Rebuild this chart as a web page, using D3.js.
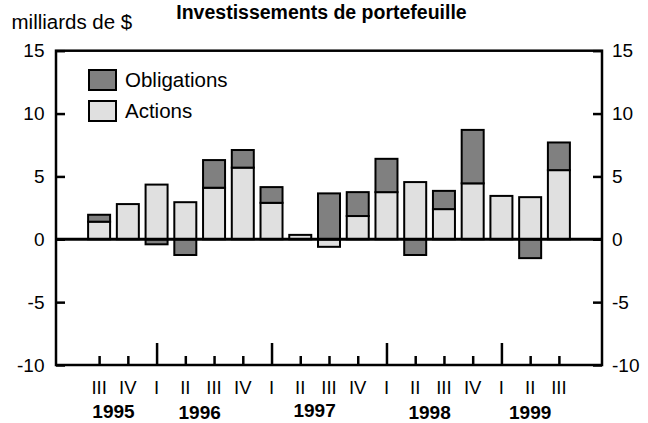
<!DOCTYPE html>
<html><head><meta charset="utf-8">
<script src="https://cdn.jsdelivr.net/npm/d3@7"></script>
<style>
html,body{margin:0;padding:0;background:#fff;}
svg{display:block;}
text{font-family:"Liberation Sans",Arial,Helvetica,sans-serif;fill:#000;}
</style></head>
<body>
<svg id="chart" width="648" height="423"></svg>
<script>
const quarters = ["III","IV","I","II","III","IV","I","II","III","IV","I","II","III","IV","I","II","III"];
const actions = [1.4, 2.8, 4.35, 2.95, 4.1, 5.7, 2.9, 0.35, -0.6, 1.85, 3.75, 4.55, 2.4, 4.45, 3.45, 3.35, 5.5];
const obligations = [0.55, 0, -0.4, -1.25, 2.2, 1.4, 1.25, 0, 3.65, 1.9, 2.65, -1.25, 1.45, 4.25, 0, -1.5, 2.2];
const years = ["1995","1996","1997","1998","1999"];
const yearStart = [0, 2, 6, 10, 14];
const yearEnd = [1, 5, 9, 13, 16];
const majorTickIdx = [2, 6, 10, 14];
const yTicks = [-10, -5, 0, 5, 10, 15];
const seriesNames = ["Obligations", "Actions"];
const title = "Investissements de portefeuille";
const unitLabel = "milliards de $";

const colors = {Obligations: "#808080", Actions: "#e0e0e0"};
const yearDy = [0, 1, -1, 1.5, 1.5];

const svg = d3.select("#chart");
const L = 56, R = 602, T = 50.7, B = 365;
const x = d3.scaleLinear().domain([-1.5, quarters.length + 0.5]).range([L, R]);
const y = d3.scaleLinear().domain([-10, 15]).range([B, T]);
const bw = 22;

// bars: stacked with positive up, negative down
const rows = quarters.map((q, i) => ({i, a: actions[i], o: obligations[i]}));
const segs = [];
rows.forEach(r => {
  let pos = 0, neg = 0;
  [["Actions", r.a], ["Obligations", r.o]].forEach(([k, v]) => {
    if (v === 0) return;
    if (v > 0) { segs.push({i: r.i, k, y0: pos, y1: pos + v}); pos += v; }
    else { segs.push({i: r.i, k, y0: neg + v, y1: neg}); neg += v; }
  });
});
svg.append("g").selectAll("rect").data(segs).join("rect")
  .attr("x", d => x(d.i) - bw / 2)
  .attr("width", bw)
  .attr("y", d => y(d.y1))
  .attr("height", d => y(d.y0) - y(d.y1))
  .attr("fill", d => colors[d.k])
  .attr("stroke", "#000").attr("stroke-width", 2);

// zero line
svg.append("line").attr("x1", L).attr("x2", R).attr("y1", y(0)).attr("y2", y(0))
  .attr("stroke", "#000").attr("stroke-width", 3);

// frame
svg.append("rect").attr("x", L).attr("y", T).attr("width", R - L).attr("height", B - T)
  .attr("fill", "none").attr("stroke", "#000").attr("stroke-width", 2.5);

// y axes (ticks inward)
const leftAxis = d3.axisRight(y).tickValues(yTicks).tickSize(9).tickFormat("");
const rightAxis = d3.axisLeft(y).tickValues(yTicks).tickSize(9).tickFormat("");
const ga = svg.append("g").attr("transform", `translate(${L},0)`).call(leftAxis);
const gb = svg.append("g").attr("transform", `translate(${R},0)`).call(rightAxis);
[ga, gb].forEach(g => {
  g.select(".domain").remove();
  g.selectAll("line").attr("stroke", "#000").attr("stroke-width", 2.5);
});
svg.append("g").selectAll("text").data(yTicks).join("text")
  .attr("x", 44.5).attr("y", d => y(d)).attr("dy", "0.35em")
  .attr("text-anchor", "end").attr("font-size", 19).text(d => d);
svg.append("g").selectAll("text").data(yTicks).join("text")
  .attr("x", 612).attr("y", d => y(d)).attr("dy", "0.35em")
  .attr("text-anchor", "start").attr("font-size", 19).text(d => d);

// x ticks (upward from bottom)
const xAxis = d3.axisTop(x).tickValues(d3.range(quarters.length)).tickFormat("")
  .tickSize(0);
const gx = svg.append("g").attr("transform", `translate(0,${B})`).call(xAxis);
gx.select(".domain").remove();
gx.selectAll(".tick line")
  .attr("y2", (d) => majorTickIdx.includes(d) ? -22 : -9)
  .attr("stroke", "#000").attr("stroke-width", 2.5);

// quarter labels
svg.append("g").selectAll("text").data(quarters).join("text")
  .attr("x", (d, i) => x(i)).attr("y", 394)
  .attr("text-anchor", "middle").attr("font-size", 18.5).text(d => d);

// year labels
svg.append("g").selectAll("text").data(years).join("text")
  .attr("x", (d, i) => (x(yearStart[i]) + x(yearEnd[i])) / 2)
  .attr("y", (d, i) => 417.5 + yearDy[i])
  .attr("text-anchor", "middle").attr("font-size", 19).attr("font-weight", "bold").text(d => d);

// legend
const lg = svg.append("g");
seriesNames.forEach((n, i) => {
  lg.append("rect").attr("x", 89).attr("y", 70 + i * 31).attr("width", 27).attr("height", 20)
    .attr("fill", colors[n]).attr("stroke", "#000").attr("stroke-width", 2);
  lg.append("text").attr("x", 125).attr("y", 86.5 + i * 31).attr("font-size", 20.5).text(n);
});

// titles
svg.append("text").attr("x", 321.5).attr("y", 18.5).attr("text-anchor", "middle")
  .attr("font-size", 19.5).attr("font-weight", "bold").text(title);
svg.append("text").attr("x", 11.5).attr("y", 29).attr("font-size", 20.5).text(unitLabel);
</script>
</body></html>
